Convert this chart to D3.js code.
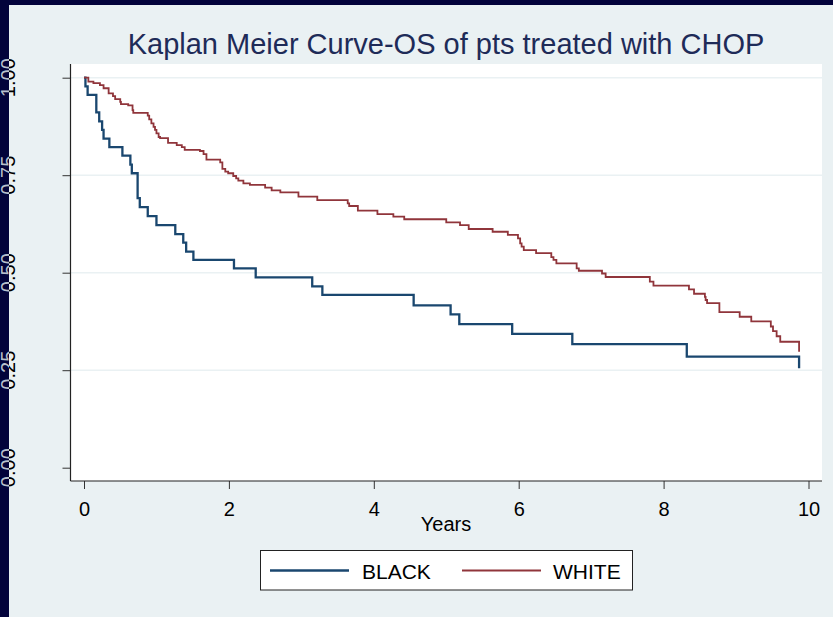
<!DOCTYPE html>
<html>
<head>
<meta charset="utf-8">
<script src="https://cdn.jsdelivr.net/npm/d3@7"></script>
<style>
  html, body { margin: 0; padding: 0; background: #eaf1f3; }
  svg { display: block; }
  text { font-family: "Liberation Sans", Arial, sans-serif; }
</style>
</head>
<body>
<svg id="chart" width="833" height="617"></svg>
<script>
// Kaplan-Meier overall survival estimates, by group (time in years, survival probability)
const blackTime = [0, 0.02, 0.05, 0.17, 0.21, 0.25, 0.27, 0.35, 0.53, 0.64, 0.66, 0.74, 0.77, 0.88, 1.00,
  1.26, 1.37, 1.41, 1.51, 2.07, 2.37, 3.15, 3.29, 4.55, 5.06, 5.18, 5.91, 6.74, 8.32, 9.87];
const blackSurv = [1.000, 0.978, 0.956, 0.911, 0.888, 0.866, 0.844, 0.822, 0.800, 0.777, 0.755, 0.691, 0.668, 0.645, 0.622,
  0.599, 0.577, 0.554, 0.533, 0.511, 0.488, 0.465, 0.443, 0.416, 0.393, 0.368, 0.343, 0.317, 0.285, 0.255];

const whiteTime = [0, 0.06, 0.13, 0.22, 0.27, 0.34, 0.40, 0.43, 0.50, 0.51, 0.61, 0.67, 0.68, 0.88, 0.90,
  0.93, 0.96, 0.98, 1.00, 1.03, 1.05, 1.16, 1.28, 1.35, 1.39, 1.60, 1.65, 1.69, 1.88, 1.91, 1.95,
  1.99, 2.06, 2.10, 2.13, 2.20, 2.29, 2.50, 2.59, 2.71, 2.96, 3.22, 3.64, 3.66, 3.78, 4.05, 4.27,
  4.42, 5.00, 5.19, 5.31, 5.64, 5.85, 5.99, 6.02, 6.04, 6.07, 6.24, 6.45, 6.48, 6.52, 6.80, 6.83,
  7.15, 7.20, 7.81, 7.86, 8.35, 8.42, 8.57, 8.58, 8.60, 8.77, 9.05, 9.21, 9.48, 9.51, 9.56, 9.61, 9.87];
const whiteSurv = [1.000, 0.990, 0.986, 0.981, 0.973, 0.960, 0.953, 0.945, 0.938, 0.932, 0.929, 0.917, 0.910, 0.903, 0.893,
  0.883, 0.874, 0.866, 0.857, 0.848, 0.845, 0.833, 0.827, 0.822, 0.815, 0.812, 0.804, 0.790, 0.783, 0.766, 0.759,
  0.755, 0.748, 0.742, 0.736, 0.729, 0.725, 0.718, 0.711, 0.706, 0.695, 0.686, 0.678, 0.671, 0.659, 0.650, 0.644,
  0.637, 0.629, 0.622, 0.612, 0.605, 0.597, 0.588, 0.575, 0.567, 0.558, 0.550, 0.540, 0.533, 0.524, 0.511, 0.505,
  0.498, 0.489, 0.477, 0.467, 0.457, 0.446, 0.438, 0.430, 0.422, 0.399, 0.387, 0.375, 0.362, 0.350, 0.337, 0.323, 0.297];

const groups = ["BLACK", "WHITE"];
const groupColors = ["#1a476f", "#90353b"];
const xTicks = [0, 2, 4, 6, 8, 10];
const yTicks = [0, 0.25, 0.5, 0.75, 1];
const gridTicks = [0.25, 0.5, 0.75, 1];
const titleText = "Kaplan Meier Curve-OS of pts treated with CHOP";
const xTitle = "Years";

const svg = d3.select("#chart");
const W = 833, H = 617;
const plot = { left: 70.5, right: 822, top: 64, bottom: 481 };

const x = d3.scaleLinear().domain([0, 10]).range([84, 808.5]);
const y = d3.scaleLinear().domain([0, 1]).range([467.7, 77.7]);

// graph region background
svg.append("rect").attr("width", W).attr("height", H).attr("fill", "#eaf1f3");

// plot region
svg.append("rect")
  .attr("x", plot.left).attr("y", plot.top)
  .attr("width", plot.right - plot.left).attr("height", plot.bottom - plot.top)
  .attr("fill", "#ffffff");

// horizontal grid lines
svg.append("g").selectAll("line").data(gridTicks).join("line")
  .attr("x1", plot.left).attr("x2", plot.right)
  .attr("y1", d => y(d)).attr("y2", d => y(d))
  .attr("stroke", "#eaf1f3").attr("stroke-width", 1.6);

// survival step curves
const series = [
  { name: groups[0], color: groupColors[0], width: 2.3, pts: blackTime.map((t, i) => [t, blackSurv[i]]) },
  { name: groups[1], color: groupColors[1], width: 1.8, pts: whiteTime.map((t, i) => [t, whiteSurv[i]]) }
];
const line = d3.line().x(d => x(d[0])).y(d => y(d[1])).curve(d3.curveStepAfter);
svg.append("g").selectAll("path").data(series).join("path")
  .attr("d", d => line(d.pts))
  .attr("fill", "none")
  .attr("stroke", d => d.color)
  .attr("stroke-width", d => d.width)
  .attr("stroke-linejoin", "miter");

// y axis
const yAxis = svg.append("g")
  .attr("transform", `translate(${plot.left},0)`)
  .call(d3.axisLeft(y).tickValues(yTicks).tickFormat(d3.format(".2f")).tickSize(8).tickSizeOuter(0));
yAxis.select(".domain").remove();
yAxis.selectAll(".tick line").attr("stroke", "#333").attr("stroke-width", 1);
yAxis.selectAll(".tick text").remove();
svg.append("line")
  .attr("x1", plot.left).attr("x2", plot.left)
  .attr("y1", plot.top).attr("y2", plot.bottom)
  .attr("stroke", "#222").attr("stroke-width", 1.2);

// x axis
const xAxis = svg.append("g")
  .attr("transform", `translate(0,${plot.bottom})`)
  .call(d3.axisBottom(x).tickValues(xTicks).tickFormat(d3.format("d")).tickSize(8).tickSizeOuter(0).tickPadding(13));
xAxis.select(".domain").remove();
xAxis.selectAll(".tick line").attr("stroke", "#333").attr("stroke-width", 1);
xAxis.selectAll(".tick text")
  .attr("font-size", 20).attr("fill", "#000")
  .style("font-family", "'Liberation Sans', Arial, sans-serif");
svg.append("line")
  .attr("x1", plot.left).attr("x2", plot.right)
  .attr("y1", plot.bottom).attr("y2", plot.bottom)
  .attr("stroke", "#222").attr("stroke-width", 1.2);

// rotated y tick labels (partly under the dark frame)
function yLabels(g, color) {
  g.selectAll("text").data(yTicks).join("text")
    .attr("transform", d => `translate(14.5,${y(d)}) rotate(-90)`)
    .attr("text-anchor", "middle")
    .attr("font-size", 20)
    .attr("fill", color)
    .text(d3.format(".2f"));
}
yLabels(svg.append("g"), "#000");

// dark frame on the top and left edges
svg.append("rect").attr("x", 0).attr("y", 0).attr("width", W).attr("height", 5).attr("fill", "#03033b");
svg.append("rect").attr("x", 0).attr("y", 0).attr("width", 9).attr("height", H).attr("fill", "#03033b");
svg.append("clipPath").attr("id", "frameClip")
  .append("rect").attr("x", 0).attr("y", 0).attr("width", 9).attr("height", H);
yLabels(svg.append("g").attr("clip-path", "url(#frameClip)"), "#b9c0cc");

// title
svg.append("text")
  .attr("x", 446).attr("y", 54)
  .attr("text-anchor", "middle")
  .attr("font-size", 29)
  .attr("fill", "#1e2b58")
  .text(titleText);

// x axis title
svg.append("text")
  .attr("x", 446).attr("y", 531)
  .attr("text-anchor", "middle")
  .attr("font-size", 20)
  .attr("fill", "#000")
  .text(xTitle);

// legend
const legend = svg.append("g");
legend.append("rect")
  .attr("x", 260.5).attr("y", 550.5).attr("width", 372).attr("height", 39.5)
  .attr("fill", "#ffffff").attr("stroke", "#222").attr("stroke-width", 1);
const legendItems = [
  { x1: 270, x2: 349, tx: 362 },
  { x1: 462, x2: 541, tx: 553 }
];
legend.selectAll("line").data(series).join("line")
  .attr("x1", (d, i) => legendItems[i].x1).attr("x2", (d, i) => legendItems[i].x2)
  .attr("y1", 570.5).attr("y2", 570.5)
  .attr("stroke", d => d.color).attr("stroke-width", d => d.width);
legend.selectAll("text").data(series).join("text")
  .attr("x", (d, i) => legendItems[i].tx).attr("y", 578.5)
  .attr("font-size", 21).attr("fill", "#000")
  .text(d => d.name);
</script>
</body>
</html>
